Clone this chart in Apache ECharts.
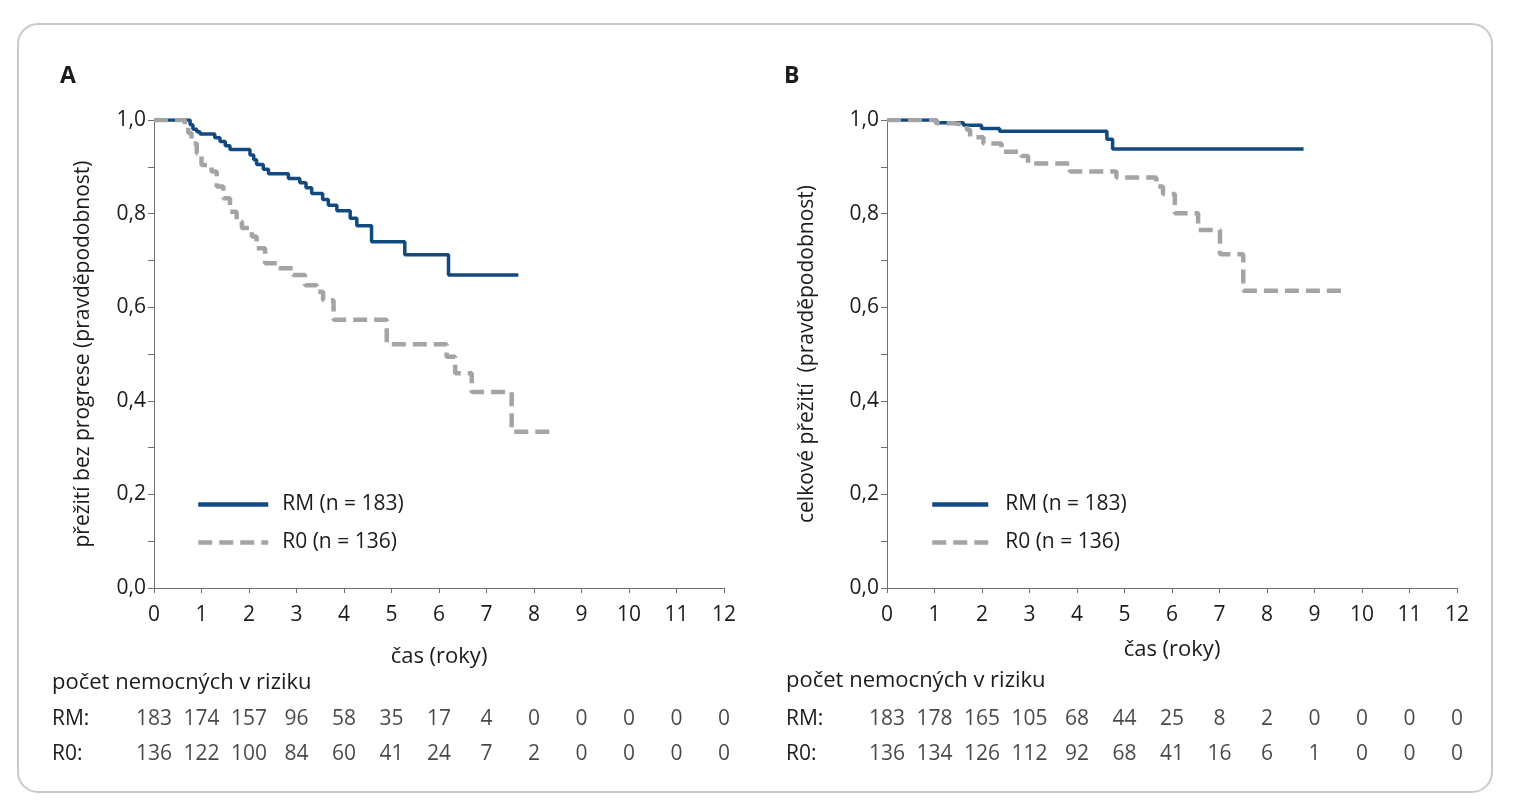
<!DOCTYPE html>
<html lang="cs">
<head>
<meta charset="UTF-8">
<script src="https://cdn.jsdelivr.net/npm/echarts@6/dist/echarts.min.js"></script>
<title>Přežití</title>
<style>
  html, body { margin: 0; padding: 0; background: #fff; }
</style>
</head>
<body>
<div id="main" style="width:1520px;height:800px;"></div>
<script>
// roky na ose x a v tabulce rizika
var years = [0, 1, 2, 3, 4, 5, 6, 7, 8, 9, 10, 11, 12];

// A: přežití bez progrese (Kaplan-Meier)
var timesA_RM = [0, 0.76, 0.82, 0.90, 0.97, 1.28, 1.39, 1.50, 1.60, 2.02, 2.10, 2.16, 2.30, 2.41, 2.83, 3.07, 3.20, 3.32, 3.55, 3.67, 3.85, 4.13, 4.27, 4.58, 5.28, 6.20, 7.67];
var survA_RM  = [1.0, 0.99, 0.98, 0.975, 0.97, 0.962, 0.954, 0.945, 0.937, 0.925, 0.915, 0.905, 0.895, 0.885, 0.875, 0.866, 0.855, 0.843, 0.83, 0.818, 0.806, 0.79, 0.774, 0.74, 0.712, 0.669, 0.669];
var timesA_R0 = [0, 0.65, 0.72, 0.79, 0.90, 1.00, 1.21, 1.32, 1.46, 1.60, 1.74, 1.85, 2.06, 2.16, 2.34, 2.62, 2.93, 3.18, 3.43, 3.56, 3.78, 4.90, 6.16, 6.34, 6.69, 7.53, 8.34];
var survA_R0  = [1.0, 0.985, 0.972, 0.95, 0.929, 0.904, 0.89, 0.858, 0.833, 0.804, 0.783, 0.769, 0.751, 0.726, 0.694, 0.683, 0.669, 0.647, 0.633, 0.615, 0.573, 0.521, 0.494, 0.459, 0.419, 0.334, 0.334];

// B: celkové přežití
var timesB_RM = [0, 1.05, 1.61, 1.99, 2.37, 4.63, 4.75, 8.77];
var survB_RM  = [1.0, 0.994, 0.989, 0.982, 0.976, 0.959, 0.938, 0.938];
var timesB_R0 = [0, 1.03, 1.40, 1.68, 1.75, 2.03, 2.41, 2.83, 2.97, 3.85, 4.83, 5.67, 5.81, 6.06, 6.55, 7.01, 7.50, 9.61];
var survB_R0  = [1.0, 0.993, 0.989, 0.979, 0.963, 0.950, 0.932, 0.923, 0.907, 0.890, 0.877, 0.858, 0.842, 0.801, 0.765, 0.713, 0.635, 0.635];

// počet nemocných v riziku
var riskA_RM = [183, 174, 157, 96, 58, 35, 17, 4, 0, 0, 0, 0, 0];
var riskA_R0 = [136, 122, 100, 84, 60, 41, 24, 7, 2, 0, 0, 0, 0];
var riskB_RM = [183, 178, 165, 105, 68, 44, 25, 8, 2, 0, 0, 0, 0];
var riskB_R0 = [136, 134, 126, 112, 92, 68, 41, 16, 6, 1, 0, 0, 0];

var nameRM = 'RM (n = 183)';
var nameR0 = 'R0 (n = 136)';
var rowLabels = ['RM:', 'R0:'];

var FONT = '"Open Sans", "Noto Sans", sans-serif';
var TXT = '#1c1a1b';
var AXIS = '#6e6e6e';
var BLUE = '#124a80';
var GRAY = '#a4a4a4';

function zip(t, s) {
    return t.map(function (v, i) { return [v, s[i]]; });
}
function riskData(rm, r0) {
    var out = [];
    years.forEach(function (y, i) {
        out.push([y, 0, rm[i]]);
        out.push([y, 1, r0[i]]);
    });
    return out;
}

var myChart = echarts.init(document.getElementById('main'));

function xAxisKM(gridIndex, gap) {
    return {
        type: 'value', gridIndex: gridIndex, min: 0, max: 12, interval: 1,
        name: 'čas (roky)', nameLocation: 'middle', nameGap: gap,
        nameTextStyle: { fontFamily: FONT, fontSize: 22, color: TXT },
        axisLine: { lineStyle: { color: AXIS, width: 1 } },
        axisTick: { length: 5, lineStyle: { color: AXIS } },
        axisLabel: { margin: 17, fontFamily: FONT, fontSize: 21, color: TXT },
        splitLine: { show: false }
    };
}
function yAxisKM(gridIndex, title, gap) {
    return {
        type: 'value', gridIndex: gridIndex, min: 0, max: 1, interval: 0.1,
        name: title, nameLocation: 'middle', nameGap: gap,
        nameTextStyle: { fontFamily: FONT, fontSize: 21, color: TXT },
        axisLine: { show: true, lineStyle: { color: AXIS, width: 1 } },
        axisTick: { show: true, length: 6, lineStyle: { color: AXIS } },
        axisLabel: {
            margin: 8, fontFamily: FONT, fontSize: 21, color: TXT,
            formatter: function (v) {
                return Math.round(v * 10) % 2 === 0 ? v.toFixed(1).replace('.', ',') : '';
            }
        },
        splitLine: { show: false }
    };
}
function xAxisRisk(gridIndex) {
    return { type: 'value', gridIndex: gridIndex, min: 0, max: 12, show: false };
}
function yAxisRisk(gridIndex, margin) {
    return {
        type: 'category', gridIndex: gridIndex, data: rowLabels, inverse: true, boundaryGap: false,
        axisLine: { show: false }, axisTick: { show: false },
        axisLabel: { align: 'left', margin: margin, fontFamily: FONT, fontSize: 21, color: TXT }
    };
}
function kmSeries(name, data, idx, color, width, dashed) {
    return {
        name: name, type: 'line', step: 'end', xAxisIndex: idx, yAxisIndex: idx,
        data: data, symbol: 'none', silent: true, animation: false,
        lineStyle: dashed ? { color: color, width: width, type: [14, 7] } : { color: color, width: width },
        itemStyle: { color: color }
    };
}
function riskSeries(data, idx) {
    return {
        type: 'scatter', xAxisIndex: idx, yAxisIndex: idx, data: data,
        symbolSize: 1, itemStyle: { color: 'rgba(0,0,0,0)' }, silent: true, animation: false,
        label: {
            show: true, position: 'inside', fontFamily: FONT, fontSize: 21, color: TXT,
            formatter: function (p) { return String(p.value[2]); }
        }
    };
}

var option = {
    backgroundColor: '#fff',
    graphic: [{
        type: 'rect', z: -1, silent: true,
        shape: { x: 18, y: 24, width: 1474, height: 768, r: 20 },
        style: { fill: 'none', stroke: '#c9c9c9', lineWidth: 2 }
    }],
    title: [
        { text: 'A', left: 60, top: 65, padding: 0, textStyle: { fontFamily: FONT, fontSize: 23, fontWeight: 'bold', color: TXT } },
        { text: 'B', left: 784, top: 65, padding: 0, textStyle: { fontFamily: FONT, fontSize: 23, fontWeight: 'bold', color: TXT } },
        { text: 'počet nemocných v riziku', left: 52, top: 672, padding: 0, textStyle: { fontFamily: FONT, fontSize: 22, fontWeight: 'normal', color: TXT } },
        { text: 'počet nemocných v riziku', left: 786, top: 670, padding: 0, textStyle: { fontFamily: FONT, fontSize: 22, fontWeight: 'normal', color: TXT } }
    ],
    legend: [
        {
            data: [nameRM, nameR0], orient: 'vertical', left: 196, top: 494, padding: 0,
            itemWidth: 70, itemHeight: 22, itemGap: 17, selectedMode: false,
            itemStyle: { opacity: 0 }, lineStyle: { width: 4.5 },
            textStyle: { fontFamily: FONT, fontSize: 21, color: TXT, padding: [0, 0, 0, 9] }
        },
        {
            data: [nameRM, nameR0], orient: 'vertical', left: 930, top: 494, padding: 0,
            itemWidth: 56, itemHeight: 22, itemGap: 17, selectedMode: false,
            itemStyle: { opacity: 0 }, lineStyle: { width: 4.5 },
            textStyle: { fontFamily: FONT, fontSize: 21, color: TXT, padding: [0, 0, 0, 12] }
        }
    ],
    grid: [
        { left: 154, top: 120, width: 570, height: 468 },
        { left: 887, top: 120, width: 570, height: 468 },
        { left: 154, top: 719, width: 570, height: 35 },
        { left: 887, top: 719, width: 570, height: 35 }
    ],
    xAxis: [xAxisKM(0, 58), xAxisKM(1, 51), xAxisRisk(2), xAxisRisk(3)],
    yAxis: [
        yAxisKM(0, 'přežití bez progrese (pravděpodobnost)', 60),
        yAxisKM(1, 'celkové přežití  (pravděpodobnost)', 69),
        yAxisRisk(2, 102),
        yAxisRisk(3, 101)
    ],
    series: [
        kmSeries(nameRM, zip(timesA_RM, survA_RM), 0, BLUE, 3.5, false),
        kmSeries(nameR0, zip(timesA_R0, survA_R0), 0, GRAY, 4.5, true),
        kmSeries(nameRM, zip(timesB_RM, survB_RM), 1, BLUE, 3.5, false),
        kmSeries(nameR0, zip(timesB_R0, survB_R0), 1, GRAY, 4.5, true),
        riskSeries(riskData(riskA_RM, riskA_R0), 2),
        riskSeries(riskData(riskB_RM, riskB_R0), 3)
    ]
};
myChart.setOption(option);
</script>
</body>
</html>
